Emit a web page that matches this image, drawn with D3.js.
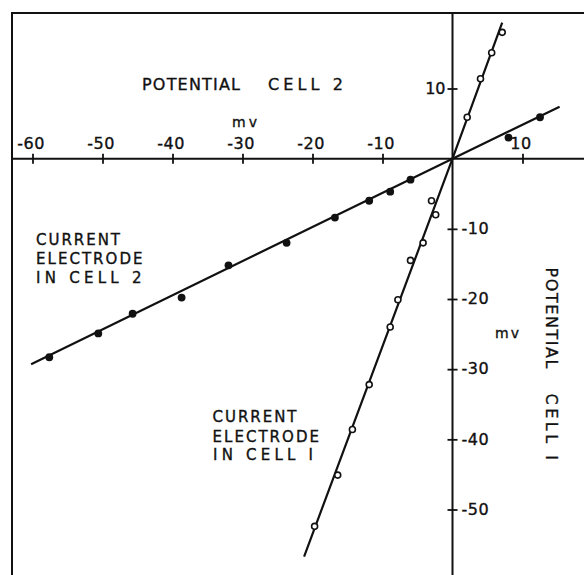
<!DOCTYPE html>
<html><head><meta charset="utf-8">
<script src="https://cdn.jsdelivr.net/npm/d3@7"></script>
<style>
html,body{margin:0;padding:0;background:#fff;}
svg{display:block;}
text{font-family:"DejaVu Sans",sans-serif;fill:#111;stroke:#111;stroke-width:0.35px;}
</style></head>
<body>
<script>
// ---- data (mV) ----
const xTicks = [-60, -50, -40, -30, -20, -10, 10];
const yTicksPos = [10];
const yTicksNeg = [-10, -20, -30, -40, -50];

// current electrode in cell 2 (filled dots): x = potential cell 2, y = potential cell 1
const cell2X = [-57.6, -50.6, -45.7, -38.7, -32.0, -23.7, -16.8, -11.9, -8.9, -6.0, 8.0, 12.5];
const cell2Y = [-28.3, -24.9, -22.1, -19.8, -15.2, -12.0, -8.4, -6.0, -4.7, -3.0, 3.0, 5.9];
const cell2LineX = [-60.2, 0, 15.3];
const cell2LineY = [-29.3, 0, 7.4];

// current electrode in cell 1 (open circles)
const cell1X = [7.1, 5.6, 4.0, 2.1, -3.0, -2.4, -4.2, -6.0, -7.8, -8.9, -11.9, -14.3, -16.4, -19.7];
const cell1Y = [18.0, 15.1, 11.4, 5.9, -6.0, -8.0, -12.0, -14.5, -20.1, -24.0, -32.2, -38.6, -45.1, -52.4];
const cell1LineX = [-21.2, 0, 7.1];
const cell1LineY = [-56.7, 0, 19.4];

const W = 584, H = 575;
const svg = d3.select("body").append("svg").attr("width", W).attr("height", H);

const x = d3.scaleLinear().domain([-60, 10]).range([32.5, 522.5]);
const y = d3.scaleLinear().domain([10, -50]).range([88.5, 509.5]);
const x0 = x(0), y0 = y(0);

// frame
svg.append("line").attr("x1", 11).attr("x2", W).attr("y1", 13).attr("y2", 13)
  .attr("stroke", "#111").attr("stroke-width", 2);
svg.append("line").attr("x1", 12).attr("x2", 12).attr("y1", 12).attr("y2", H)
  .attr("stroke", "#111").attr("stroke-width", 2);

// axis lines
svg.append("line").attr("x1", 12).attr("x2", W).attr("y1", y0).attr("y2", y0)
  .attr("stroke", "#111").attr("stroke-width", 2);
svg.append("line").attr("x1", x0).attr("x2", x0).attr("y1", 13).attr("y2", H)
  .attr("stroke", "#111").attr("stroke-width", 2);

const fmt = d => String(d);

// x axis (labels above)
const gx = svg.append("g").attr("transform", `translate(0,${y0})`)
  .call(d3.axisTop(x).tickValues(xTicks).tickSize(5).tickFormat(fmt));
gx.select(".domain").remove();
gx.selectAll(".tick line").attr("y1", 5).attr("y2", -5).attr("stroke", "#111").attr("stroke-width", 1.8);
gx.selectAll(".tick text").attr("y", -10).attr("dy", 0).attr("dx", -2)
  .attr("font-size", 16).attr("font-family", "DejaVu Sans").attr("fill", "#111")
  .attr("letter-spacing", 0.5);

// y axis positive (labels left)
const gyl = svg.append("g").attr("transform", `translate(${x0},0)`)
  .call(d3.axisLeft(y).tickValues(yTicksPos).tickSize(5).tickFormat(fmt));
gyl.select(".domain").remove();
gyl.selectAll(".tick line").attr("x1", 5).attr("x2", -5).attr("stroke", "#111").attr("stroke-width", 1.8);
gyl.selectAll(".tick text").attr("x", -7).attr("dy", "0.3em")
  .attr("font-size", 16).attr("font-family", "DejaVu Sans").attr("fill", "#111");

// y axis negative (labels right)
const gyr = svg.append("g").attr("transform", `translate(${x0},0)`)
  .call(d3.axisRight(y).tickValues(yTicksNeg).tickSize(5).tickFormat(fmt));
gyr.select(".domain").remove();
gyr.selectAll(".tick line").attr("x1", -5).attr("x2", 5).attr("stroke", "#111").attr("stroke-width", 1.8);
gyr.selectAll(".tick text").attr("x", 9).attr("dy", "0.3em")
  .attr("font-size", 16).attr("font-family", "DejaVu Sans").attr("fill", "#111")
  .attr("letter-spacing", 0.5);

// fitted lines
const line = d3.line().x(d => x(d[0])).y(d => y(d[1]));
svg.append("path").datum(d3.zip(cell2LineX, cell2LineY)).attr("d", line)
  .attr("fill", "none").attr("stroke", "#111").attr("stroke-width", 2.2);
svg.append("path").datum(d3.zip(cell1LineX, cell1LineY)).attr("d", line)
  .attr("fill", "none").attr("stroke", "#111").attr("stroke-width", 2.2);

// points
svg.append("g").selectAll("circle").data(d3.zip(cell2X, cell2Y)).join("circle")
  .attr("cx", d => x(d[0])).attr("cy", d => y(d[1])).attr("r", 3.9).attr("fill", "#111");
svg.append("g").selectAll("circle").data(d3.zip(cell1X, cell1Y)).join("circle")
  .attr("cx", d => x(d[0])).attr("cy", d => y(d[1])).attr("r", 3)
  .attr("fill", "#fff").attr("stroke", "#111").attr("stroke-width", 1.6);

// text labels
function txt(s, px, py, len, size, extra) {
  const t = svg.append("text").attr("x", px).attr("y", py).attr("font-size", size).text(s);
  if (len) t.attr("textLength", len).attr("lengthAdjust", "spacing");
  if (extra) extra(t);
  return t;
}
txt("POTENTIAL", 142, 90, 98, 16);
txt("CELL 2", 268, 90, 75, 16);
txt("m v", 232, 126.5, 25, 14);

txt("CURRENT", 36, 245, 84, 15);
txt("ELECTRODE", 36, 264, 106.5, 15);
txt("IN CELL 2", 36, 282.5, 105.5, 15);

txt("CURRENT", 212.5, 422.3, 84, 15);
txt("ELECTRODE", 212.5, 442, 106.5, 15);
txt("IN CELL I", 213, 459.5, 100, 15);

txt("m v", 495, 338, 24, 14);

// vertical axis title
txt("POTENTIAL", 545.5, 267.5, 101, 16, t => t.attr("transform", "rotate(90,545.5,267.5)"));
txt("CELL I", 545.5, 393.5, 66.5, 16, t => t.attr("transform", "rotate(90,545.5,393.5)"));
</script>
</body></html>
